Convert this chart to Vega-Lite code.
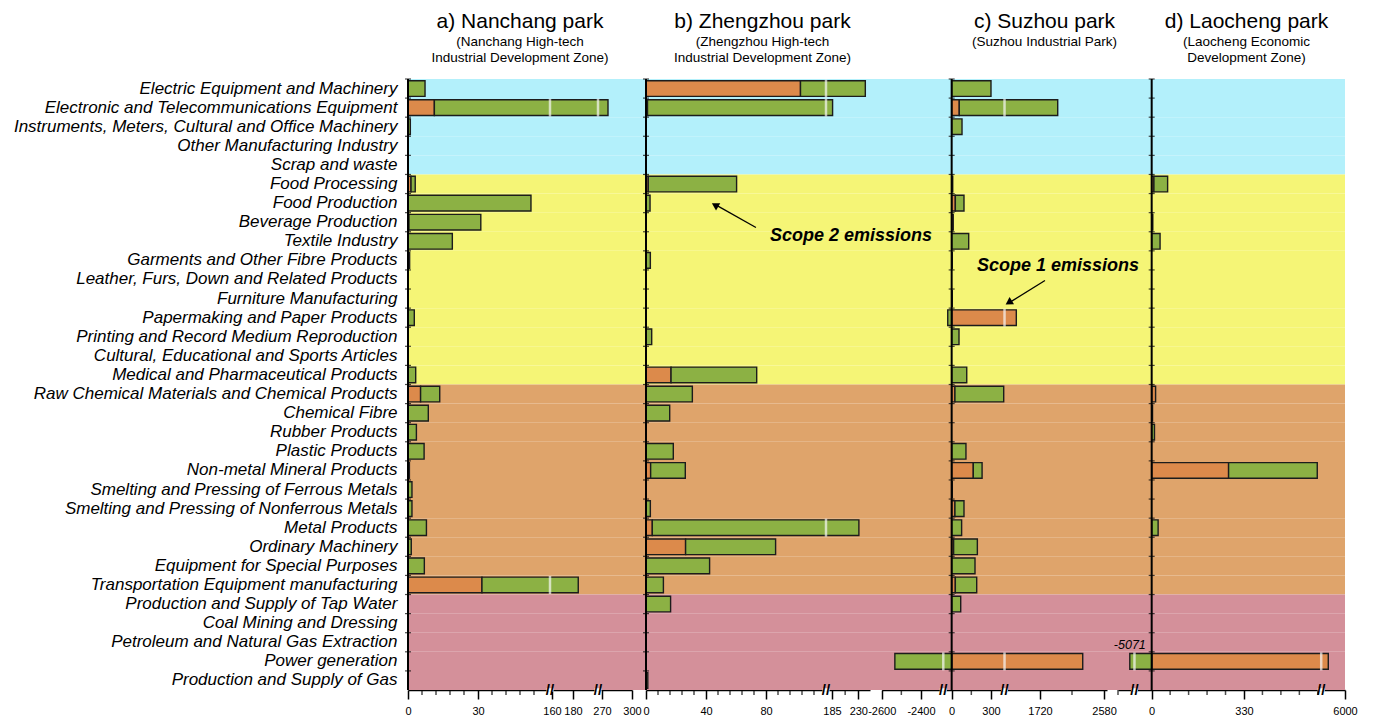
{
"$schema": "https://vega.github.io/schema/vega-lite/v6.json",
"padding": {"left": 13, "top": 10, "right": 5, "bottom": 5},
"background": "white",
"spacing": 0,
"bounds": "flush",
"config": {
  "view": {"stroke": null},
  "font": "Liberation Sans",
  "title": {"font": "Liberation Sans", "fontSize": 21, "fontWeight": "normal", "color": "black", "anchor": "middle", "subtitleFont": "Liberation Sans", "subtitleFontSize": 13.5, "subtitleColor": "black", "subtitlePadding": 3, "subtitleLineHeight": 16, "offset": 14},
  "axis": {"labelFont": "Liberation Sans", "labelColor": "black", "labelOverlap": false}
},
"datasets": {
  "sectors": [
    {"sector": "Electric Equipment and Machinery", "group": "g1"},
    {"sector": "Electronic and Telecommunications Equipment", "group": "g1"},
    {"sector": "Instruments, Meters, Cultural and Office Machinery", "group": "g1"},
    {"sector": "Other Manufacturing Industry", "group": "g1"},
    {"sector": "Scrap and waste", "group": "g1"},
    {"sector": "Food Processing", "group": "g2"},
    {"sector": "Food Production", "group": "g2"},
    {"sector": "Beverage Production", "group": "g2"},
    {"sector": "Textile Industry", "group": "g2"},
    {"sector": "Garments and Other Fibre Products", "group": "g2"},
    {"sector": "Leather, Furs, Down and Related Products", "group": "g2"},
    {"sector": "Furniture Manufacturing", "group": "g2"},
    {"sector": "Papermaking and Paper Products", "group": "g2"},
    {"sector": "Printing and Record Medium Reproduction", "group": "g2"},
    {"sector": "Cultural, Educational and Sports Articles", "group": "g2"},
    {"sector": "Medical and Pharmaceutical Products", "group": "g2"},
    {"sector": "Raw Chemical Materials and Chemical Products", "group": "g3"},
    {"sector": "Chemical Fibre", "group": "g3"},
    {"sector": "Rubber Products", "group": "g3"},
    {"sector": "Plastic Products", "group": "g3"},
    {"sector": "Non-metal Mineral Products", "group": "g3"},
    {"sector": "Smelting and Pressing of Ferrous Metals", "group": "g3"},
    {"sector": "Smelting and Pressing of Nonferrous Metals", "group": "g3"},
    {"sector": "Metal Products", "group": "g3"},
    {"sector": "Ordinary Machinery", "group": "g3"},
    {"sector": "Equipment for Special Purposes", "group": "g3"},
    {"sector": "Transportation Equipment manufacturing", "group": "g3"},
    {"sector": "Production and Supply of Tap Water", "group": "g4"},
    {"sector": "Coal Mining and Dressing", "group": "g4"},
    {"sector": "Petroleum and Natural Gas Extraction", "group": "g4"},
    {"sector": "Power generation", "group": "g4"},
    {"sector": "Production and Supply of Gas", "group": "g4"}
  ],
  "em": [
    {"park": "a", "sector": "Electric Equipment and Machinery", "scope": "Scope 2", "value": 7.3},
    {"park": "a", "sector": "Electronic and Telecommunications Equipment", "scope": "Scope 1", "value": 11.3},
    {"park": "a", "sector": "Electronic and Telecommunications Equipment", "scope": "Scope 2", "value": 264.7},
    {"park": "a", "sector": "Instruments, Meters, Cultural and Office Machinery", "scope": "Scope 2", "value": 1.0},
    {"park": "a", "sector": "Food Processing", "scope": "Scope 1", "value": 1.3},
    {"park": "a", "sector": "Food Processing", "scope": "Scope 2", "value": 1.8},
    {"park": "a", "sector": "Food Production", "scope": "Scope 2", "value": 52.7},
    {"park": "a", "sector": "Beverage Production", "scope": "Scope 1", "value": 0.4},
    {"park": "a", "sector": "Beverage Production", "scope": "Scope 2", "value": 30.8},
    {"park": "a", "sector": "Textile Industry", "scope": "Scope 2", "value": 19.0},
    {"park": "a", "sector": "Garments and Other Fibre Products", "scope": "Scope 2", "value": 0.7},
    {"park": "a", "sector": "Papermaking and Paper Products", "scope": "Scope 2", "value": 2.7},
    {"park": "a", "sector": "Medical and Pharmaceutical Products", "scope": "Scope 2", "value": 3.3},
    {"park": "a", "sector": "Raw Chemical Materials and Chemical Products", "scope": "Scope 1", "value": 5.4},
    {"park": "a", "sector": "Raw Chemical Materials and Chemical Products", "scope": "Scope 2", "value": 8.2},
    {"park": "a", "sector": "Chemical Fibre", "scope": "Scope 2", "value": 8.7},
    {"park": "a", "sector": "Rubber Products", "scope": "Scope 2", "value": 3.6},
    {"park": "a", "sector": "Plastic Products", "scope": "Scope 2", "value": 6.9},
    {"park": "a", "sector": "Non-metal Mineral Products", "scope": "Scope 1", "value": 0.6},
    {"park": "a", "sector": "Smelting and Pressing of Ferrous Metals", "scope": "Scope 2", "value": 1.7},
    {"park": "a", "sector": "Smelting and Pressing of Nonferrous Metals", "scope": "Scope 2", "value": 1.7},
    {"park": "a", "sector": "Metal Products", "scope": "Scope 2", "value": 7.9},
    {"park": "a", "sector": "Ordinary Machinery", "scope": "Scope 2", "value": 1.4},
    {"park": "a", "sector": "Equipment for Special Purposes", "scope": "Scope 2", "value": 7.0},
    {"park": "a", "sector": "Transportation Equipment manufacturing", "scope": "Scope 1", "value": 31.7},
    {"park": "a", "sector": "Transportation Equipment manufacturing", "scope": "Scope 2", "value": 153.3},

    {"park": "b", "sector": "Electric Equipment and Machinery", "scope": "Scope 1", "value": 103},
    {"park": "b", "sector": "Electric Equipment and Machinery", "scope": "Scope 2", "value": 139},
    {"park": "b", "sector": "Electronic and Telecommunications Equipment", "scope": "Scope 1", "value": 1},
    {"park": "b", "sector": "Electronic and Telecommunications Equipment", "scope": "Scope 2", "value": 185},
    {"park": "b", "sector": "Food Processing", "scope": "Scope 1", "value": 1.5},
    {"park": "b", "sector": "Food Processing", "scope": "Scope 2", "value": 58.9},
    {"park": "b", "sector": "Food Production", "scope": "Scope 2", "value": 2.7},
    {"park": "b", "sector": "Garments and Other Fibre Products", "scope": "Scope 2", "value": 2.9},
    {"park": "b", "sector": "Printing and Record Medium Reproduction", "scope": "Scope 2", "value": 3.8},
    {"park": "b", "sector": "Medical and Pharmaceutical Products", "scope": "Scope 1", "value": 16.7},
    {"park": "b", "sector": "Medical and Pharmaceutical Products", "scope": "Scope 2", "value": 57.1},
    {"park": "b", "sector": "Raw Chemical Materials and Chemical Products", "scope": "Scope 2", "value": 30.9},
    {"park": "b", "sector": "Chemical Fibre", "scope": "Scope 2", "value": 15.8},
    {"park": "b", "sector": "Plastic Products", "scope": "Scope 2", "value": 18.2},
    {"park": "b", "sector": "Non-metal Mineral Products", "scope": "Scope 1", "value": 3.1},
    {"park": "b", "sector": "Non-metal Mineral Products", "scope": "Scope 2", "value": 23.1},
    {"park": "b", "sector": "Smelting and Pressing of Nonferrous Metals", "scope": "Scope 2", "value": 2.9},
    {"park": "b", "sector": "Metal Products", "scope": "Scope 1", "value": 4.2},
    {"park": "b", "sector": "Metal Products", "scope": "Scope 2", "value": 226.8},
    {"park": "b", "sector": "Ordinary Machinery", "scope": "Scope 1", "value": 26.4},
    {"park": "b", "sector": "Ordinary Machinery", "scope": "Scope 2", "value": 60.0},
    {"park": "b", "sector": "Equipment for Special Purposes", "scope": "Scope 2", "value": 42.4},
    {"park": "b", "sector": "Transportation Equipment manufacturing", "scope": "Scope 2", "value": 11.6},
    {"park": "b", "sector": "Production and Supply of Tap Water", "scope": "Scope 2", "value": 16.4},
    {"park": "b", "sector": "Production and Supply of Gas", "scope": "Scope 2", "value": 1.2},

    {"park": "c", "sector": "Electric Equipment and Machinery", "scope": "Scope 2", "value": 300},
    {"park": "c", "sector": "Electronic and Telecommunications Equipment", "scope": "Scope 1", "value": 58},
    {"park": "c", "sector": "Electronic and Telecommunications Equipment", "scope": "Scope 2", "value": 1900},
    {"park": "c", "sector": "Instruments, Meters, Cultural and Office Machinery", "scope": "Scope 2", "value": 79},
    {"park": "c", "sector": "Food Processing", "scope": "Scope 1", "value": 8},
    {"park": "c", "sector": "Food Production", "scope": "Scope 1", "value": 28},
    {"park": "c", "sector": "Food Production", "scope": "Scope 2", "value": 66},
    {"park": "c", "sector": "Beverage Production", "scope": "Scope 1", "value": 12},
    {"park": "c", "sector": "Textile Industry", "scope": "Scope 2", "value": 130},
    {"park": "c", "sector": "Garments and Other Fibre Products", "scope": "Scope 1", "value": 5},
    {"park": "c", "sector": "Furniture Manufacturing", "scope": "Scope 1", "value": 5},
    {"park": "c", "sector": "Papermaking and Paper Products", "scope": "Scope 1", "value": 1402},
    {"park": "c", "sector": "Papermaking and Paper Products", "scope": "Scope 2", "value": -30},
    {"park": "c", "sector": "Printing and Record Medium Reproduction", "scope": "Scope 2", "value": 56},
    {"park": "c", "sector": "Medical and Pharmaceutical Products", "scope": "Scope 2", "value": 115},
    {"park": "c", "sector": "Raw Chemical Materials and Chemical Products", "scope": "Scope 1", "value": 25},
    {"park": "c", "sector": "Raw Chemical Materials and Chemical Products", "scope": "Scope 2", "value": 372},
    {"park": "c", "sector": "Plastic Products", "scope": "Scope 2", "value": 109},
    {"park": "c", "sector": "Non-metal Mineral Products", "scope": "Scope 1", "value": 165},
    {"park": "c", "sector": "Non-metal Mineral Products", "scope": "Scope 2", "value": 67},
    {"park": "c", "sector": "Smelting and Pressing of Ferrous Metals", "scope": "Scope 1", "value": 5},
    {"park": "c", "sector": "Smelting and Pressing of Nonferrous Metals", "scope": "Scope 1", "value": 25},
    {"park": "c", "sector": "Smelting and Pressing of Nonferrous Metals", "scope": "Scope 2", "value": 69},
    {"park": "c", "sector": "Metal Products", "scope": "Scope 2", "value": 76},
    {"park": "c", "sector": "Ordinary Machinery", "scope": "Scope 1", "value": 15},
    {"park": "c", "sector": "Ordinary Machinery", "scope": "Scope 2", "value": 181},
    {"park": "c", "sector": "Equipment for Special Purposes", "scope": "Scope 2", "value": 178},
    {"park": "c", "sector": "Transportation Equipment manufacturing", "scope": "Scope 1", "value": 28},
    {"park": "c", "sector": "Transportation Equipment manufacturing", "scope": "Scope 2", "value": 163},
    {"park": "c", "sector": "Production and Supply of Tap Water", "scope": "Scope 2", "value": 69},
    {"park": "c", "sector": "Power generation", "scope": "Scope 1", "value": 2294},
    {"park": "c", "sector": "Power generation", "scope": "Scope 2", "value": -2533},

    {"park": "d", "sector": "Food Processing", "scope": "Scope 1", "value": 8},
    {"park": "d", "sector": "Food Processing", "scope": "Scope 2", "value": 49},
    {"park": "d", "sector": "Beverage Production", "scope": "Scope 1", "value": 4},
    {"park": "d", "sector": "Textile Industry", "scope": "Scope 2", "value": 30},
    {"park": "d", "sector": "Raw Chemical Materials and Chemical Products", "scope": "Scope 1", "value": 14},
    {"park": "d", "sector": "Chemical Fibre", "scope": "Scope 1", "value": 3},
    {"park": "d", "sector": "Rubber Products", "scope": "Scope 2", "value": 10},
    {"park": "d", "sector": "Non-metal Mineral Products", "scope": "Scope 1", "value": 275},
    {"park": "d", "sector": "Non-metal Mineral Products", "scope": "Scope 2", "value": 317},
    {"park": "d", "sector": "Metal Products", "scope": "Scope 2", "value": 23},
    {"park": "d", "sector": "Power generation", "scope": "Scope 1", "value": 5620},
    {"park": "d", "sector": "Power generation", "scope": "Scope 2", "value": -5071}
  ],
  "gaps": [
    {"park": "a", "sector": "Electronic and Telecommunications Equipment", "value": 110},
    {"park": "a", "sector": "Electronic and Telecommunications Equipment", "value": 235},
    {"park": "a", "sector": "Transportation Equipment manufacturing", "value": 110},
    {"park": "b", "sector": "Electric Equipment and Machinery", "value": 120},
    {"park": "b", "sector": "Electronic and Telecommunications Equipment", "value": 120},
    {"park": "b", "sector": "Metal Products", "value": 120},
    {"park": "c", "sector": "Electronic and Telecommunications Equipment", "value": 800},
    {"park": "c", "sector": "Papermaking and Paper Products", "value": 800},
    {"park": "c", "sector": "Power generation", "value": -1000},
    {"park": "c", "sector": "Power generation", "value": 800},
    {"park": "d", "sector": "Power generation", "value": -2500},
    {"park": "d", "sector": "Power generation", "value": 3000}
  ],
  "brk": [
    {"park": "a", "value": 110},
    {"park": "a", "value": 235},
    {"park": "b", "value": 120},
    {"park": "c", "value": -1000},
    {"park": "c", "value": 800},
    {"park": "d", "value": -2500},
    {"park": "d", "value": 3000}
  ],
  "minor": [
    {"park": "a", "value": 6}, {"park": "a", "value": 12}, {"park": "a", "value": 18}, {"park": "a", "value": 24},
    {"park": "a", "value": 36}, {"park": "a", "value": 42}, {"park": "a", "value": 48}, {"park": "a", "value": 54},
    {"park": "b", "value": 8}, {"park": "b", "value": 16}, {"park": "b", "value": 24}, {"park": "b", "value": 32},
    {"park": "b", "value": 48}, {"park": "b", "value": 56}, {"park": "b", "value": 64}, {"park": "b", "value": 72},
    {"park": "b", "value": 88}, {"park": "b", "value": 96}, {"park": "b", "value": 104}, {"park": "b", "value": 112},
    {"park": "b", "value": 207.5},
    {"park": "c", "value": -2500}, {"park": "c", "value": 150}, {"park": "c", "value": 2150},
    {"park": "d", "value": -5130}, {"park": "d", "value": 66}, {"park": "d", "value": 132}, {"park": "d", "value": 198},
    {"park": "d", "value": 264}, {"park": "d", "value": 396}, {"park": "d", "value": 462}, {"park": "d", "value": 528},
    {"park": "d", "value": 594}
  ]
},
"resolve": {"scale": {"x": "independent", "y": "independent"}},
"hconcat": [
{
  "width": 238, "height": 611,
  "title": {"text": "a) Nanchang park", "subtitle": ["(Nanchang High-tech", "Industrial Development Zone)"], "dx": -7},
  "encoding": {"y": {"field": "sector", "type": "nominal", "scale": {"paddingInner": 0, "paddingOuter": 0, "domain": ["Electric Equipment and Machinery","Electronic and Telecommunications Equipment","Instruments, Meters, Cultural and Office Machinery","Other Manufacturing Industry","Scrap and waste","Food Processing","Food Production","Beverage Production","Textile Industry","Garments and Other Fibre Products","Leather, Furs, Down and Related Products","Furniture Manufacturing","Papermaking and Paper Products","Printing and Record Medium Reproduction","Cultural, Educational and Sports Articles","Medical and Pharmaceutical Products","Raw Chemical Materials and Chemical Products","Chemical Fibre","Rubber Products","Plastic Products","Non-metal Mineral Products","Smelting and Pressing of Ferrous Metals","Smelting and Pressing of Nonferrous Metals","Metal Products","Ordinary Machinery","Equipment for Special Purposes","Transportation Equipment manufacturing","Production and Supply of Tap Water","Coal Mining and Dressing","Petroleum and Natural Gas Extraction","Power generation","Production and Supply of Gas"]},
    "axis": {"title": null, "domain": false, "ticks": false, "labelFontSize": 17, "labelFontStyle": "italic", "labelPadding": 11, "labelLimit": 500}}},
  "layer": [
    {"data": {"name": "sectors"}, "mark": {"type": "rect"},
     "encoding": {"x": {"value": 0}, "x2": {"value": "width"}, "fill": {"field": "group", "type": "nominal", "scale": {"domain": ["g1","g2","g3","g4"], "range": ["#b3f0fb","#f5f576","#dfa46b","#d4909a"]}, "legend": null}}},
    {"data": {"name": "em"}, "transform": [{"filter": "datum.park === 'a'"}],
     "mark": {"type": "bar", "height": {"band": 0.82}, "stroke": "#1c1c1c", "strokeWidth": 1.4},
     "encoding": {
       "x": {"field": "value", "type": "quantitative", "stack": "zero",
             "scale": {"domain": [0, 60, 160, 200, 270, 300], "range": [0, 140, 144, 186, 194, 224], "zero": false, "nice": false},
             "axis": {"title": null, "grid": false, "values": [0,30,160,180,270,300], "labelExpr": "toString(datum.value)",
                      "tickSize": 9, "labelFontSize": 11, "labelPadding": 6, "labelFlush": false, "labelOverlap": false,
                      "domainColor": "black", "domainWidth": 1.5, "tickColor": "black", "tickWidth": 1.5}},
       "color": {"field": "scope", "type": "nominal", "scale": {"domain": ["Scope 1","Scope 2"], "range": ["#dc8a4b","#8cb144"]}, "legend": null},
       "order": {"field": "scope", "type": "ordinal"}}},
    {"data": {"name": "gaps"}, "transform": [{"filter": "datum.park === 'a'"}],
     "mark": {"type": "tick", "thickness": 2.5, "size": 18, "color": "#f6f6f6"},
     "encoding": {"x": {"field": "value", "type": "quantitative"}}},
    {"data": {"values": [{}]}, "mark": {"type": "rule", "color": "black", "strokeWidth": 2},
     "encoding": {"x": {"datum": 0}, "y": {"value": 0}, "y2": {"value": "height"}}},
    {"data": {"name": "sectors"}, "mark": {"type": "tick", "orient": "horizontal", "size": 6, "thickness": 1.2, "color": "black", "yOffset": -9.55},
     "encoding": {"x": {"datum": 0}}},
    {"data": {"name": "minor"}, "transform": [{"filter": "datum.park === 'a'"}],
     "mark": {"type": "tick", "orient": "vertical", "size": 5, "thickness": 1.5, "color": "black"},
     "encoding": {"x": {"field": "value", "type": "quantitative"}, "y": {"value": 613.5}}},
    {"data": {"name": "brk"}, "transform": [{"filter": "datum.park === 'a'"}],
     "mark": {"type": "point", "shape": "M-1,-0.5H1V0.5H-1Z", "size": 49, "filled": true, "color": "white", "opacity": 1},
     "encoding": {"x": {"field": "value", "type": "quantitative"}, "y": {"value": 611}}},
    {"data": {"name": "brk"}, "transform": [{"filter": "datum.park === 'a'"}],
     "mark": {"type": "text", "text": "//", "fontSize": 15, "fontWeight": "bold", "color": "black", "baseline": "middle"},
     "encoding": {"x": {"field": "value", "type": "quantitative"}, "y": {"value": 611}}}
  ]
},
{
  "width": 229, "height": 611,
  "title": {"text": "b) Zhengzhou park", "subtitle": ["(Zhengzhou High-tech", "Industrial Development Zone)"], "dx": 2},
  "encoding": {"y": {"field": "sector", "type": "nominal", "scale": {"paddingInner": 0, "paddingOuter": 0, "domain": ["Electric Equipment and Machinery","Electronic and Telecommunications Equipment","Instruments, Meters, Cultural and Office Machinery","Other Manufacturing Industry","Scrap and waste","Food Processing","Food Production","Beverage Production","Textile Industry","Garments and Other Fibre Products","Leather, Furs, Down and Related Products","Furniture Manufacturing","Papermaking and Paper Products","Printing and Record Medium Reproduction","Cultural, Educational and Sports Articles","Medical and Pharmaceutical Products","Raw Chemical Materials and Chemical Products","Chemical Fibre","Rubber Products","Plastic Products","Non-metal Mineral Products","Smelting and Pressing of Ferrous Metals","Smelting and Pressing of Nonferrous Metals","Metal Products","Ordinary Machinery","Equipment for Special Purposes","Transportation Equipment manufacturing","Production and Supply of Tap Water","Coal Mining and Dressing","Petroleum and Natural Gas Extraction","Power generation","Production and Supply of Gas"]}, "axis": null}},
  "layer": [
    {"data": {"name": "sectors"}, "mark": {"type": "rect"},
     "encoding": {"x": {"value": 0}, "x2": {"value": "width"}, "fill": {"field": "group", "type": "nominal", "scale": {"domain": ["g1","g2","g3","g4"], "range": ["#b3f0fb","#f5f576","#dfa46b","#d4909a"]}, "legend": null}}},
    {"data": {"name": "em"}, "transform": [{"filter": "datum.park === 'b'"}],
     "mark": {"type": "bar", "height": {"band": 0.82}, "stroke": "#1c1c1c", "strokeWidth": 1.4},
     "encoding": {
       "x": {"field": "value", "type": "quantitative", "stack": "zero",
             "scale": {"domain": [0, 120, 185, 250], "range": [0, 180, 186, 224], "zero": false, "nice": false},
             "axis": {"title": null, "grid": false, "values": [0,40,80,185,230], "labelExpr": "toString(datum.value)",
                      "tickSize": 9, "labelFontSize": 11, "labelPadding": 6, "labelFlush": false, "labelOverlap": false,
                      "domainColor": "black", "domainWidth": 1.5, "tickColor": "black", "tickWidth": 1.5}},
       "color": {"field": "scope", "type": "nominal", "scale": {"domain": ["Scope 1","Scope 2"], "range": ["#dc8a4b","#8cb144"]}, "legend": null},
       "order": {"field": "scope", "type": "ordinal"}}},
    {"data": {"name": "gaps"}, "transform": [{"filter": "datum.park === 'b'"}],
     "mark": {"type": "tick", "thickness": 2.5, "size": 18, "color": "#f6f6f6"},
     "encoding": {"x": {"field": "value", "type": "quantitative"}}},
    {"data": {"values": [{}]}, "mark": {"type": "rule", "color": "black", "strokeWidth": 2},
     "encoding": {"x": {"datum": 0}, "y": {"value": 0}, "y2": {"value": "height"}}},
    {"data": {"name": "sectors"}, "mark": {"type": "tick", "orient": "horizontal", "size": 6, "thickness": 1.2, "color": "black", "yOffset": -9.55},
     "encoding": {"x": {"datum": 0}}},
    {"data": {"name": "minor"}, "transform": [{"filter": "datum.park === 'b'"}],
     "mark": {"type": "tick", "orient": "vertical", "size": 5, "thickness": 1.5, "color": "black"},
     "encoding": {"x": {"field": "value", "type": "quantitative"}, "y": {"value": 613.5}}},
    {"data": {"name": "brk"}, "transform": [{"filter": "datum.park === 'b'"}],
     "mark": {"type": "point", "shape": "M-1,-0.5H1V0.5H-1Z", "size": 49, "filled": true, "color": "white", "opacity": 1},
     "encoding": {"x": {"field": "value", "type": "quantitative"}, "y": {"value": 611}}},
    {"data": {"name": "brk"}, "transform": [{"filter": "datum.park === 'b'"}],
     "mark": {"type": "text", "text": "//", "fontSize": 15, "fontWeight": "bold", "color": "black", "baseline": "middle"},
     "encoding": {"x": {"field": "value", "type": "quantitative"}, "y": {"value": 611}}},
    {"data": {"values": [{}]}, "mark": {"type": "rule", "color": "black", "strokeWidth": 1.3, "yOffset": 5.3, "y2Offset": 3},
     "encoding": {"x": {"datum": 73.3}, "x2": {"datum": 48}, "y": {"datum": "Beverage Production"}, "y2": {"datum": "Food Production"}}},
    {"data": {"values": [{}]}, "mark": {"type": "point", "shape": "triangle-up", "size": 70, "filled": true, "color": "black", "opacity": 1, "angle": 300, "yOffset": 2},
     "encoding": {"x": {"datum": 46}, "y": {"datum": "Food Production"}}}
  ]
},
{
  "width": 237, "height": 611,
  "title": {"text": "c) Suzhou park", "subtitle": ["(Suzhou Industrial Park)", " "], "dx": 51},
  "encoding": {"y": {"field": "sector", "type": "nominal", "scale": {"paddingInner": 0, "paddingOuter": 0, "domain": ["Electric Equipment and Machinery","Electronic and Telecommunications Equipment","Instruments, Meters, Cultural and Office Machinery","Other Manufacturing Industry","Scrap and waste","Food Processing","Food Production","Beverage Production","Textile Industry","Garments and Other Fibre Products","Leather, Furs, Down and Related Products","Furniture Manufacturing","Papermaking and Paper Products","Printing and Record Medium Reproduction","Cultural, Educational and Sports Articles","Medical and Pharmaceutical Products","Raw Chemical Materials and Chemical Products","Chemical Fibre","Rubber Products","Plastic Products","Non-metal Mineral Products","Smelting and Pressing of Ferrous Metals","Smelting and Pressing of Nonferrous Metals","Metal Products","Ordinary Machinery","Equipment for Special Purposes","Transportation Equipment manufacturing","Production and Supply of Tap Water","Coal Mining and Dressing","Petroleum and Natural Gas Extraction","Power generation","Production and Supply of Gas"]}, "axis": null}},
  "layer": [
    {"data": {"name": "sectors"}, "mark": {"type": "rect"},
     "encoding": {"x": {"value": 0}, "x2": {"value": "width"}, "fill": {"field": "group", "type": "nominal", "scale": {"domain": ["g1","g2","g3","g4"], "range": ["#b3f0fb","#f5f576","#dfa46b","#d4909a"]}, "legend": null}}},
    {"data": {"name": "em"}, "transform": [{"filter": "datum.park === 'c'"}],
     "mark": {"type": "bar", "height": {"band": 0.82}, "stroke": "#1c1c1c", "strokeWidth": 1.4},
     "encoding": {
       "x": {"field": "value", "type": "quantitative", "stack": "zero",
             "scale": {"domain": [-2600, -2290, -60, 400, 1250, 2620], "range": [6.7, 67.6, 68.8, 129.1, 130, 232], "zero": false, "nice": false},
             "axis": {"title": null, "grid": false, "values": [-2600,-2400,0,300,1720,2580], "labelExpr": "toString(datum.value)",
                      "tickSize": 9, "labelFontSize": 11, "labelPadding": 6, "labelFlush": false, "labelOverlap": false,
                      "domainColor": "black", "domainWidth": 1.5, "tickColor": "black", "tickWidth": 1.5}},
       "color": {"field": "scope", "type": "nominal", "scale": {"domain": ["Scope 1","Scope 2"], "range": ["#dc8a4b","#8cb144"]}, "legend": null},
       "order": {"field": "scope", "type": "ordinal"}}},
    {"data": {"name": "gaps"}, "transform": [{"filter": "datum.park === 'c'"}],
     "mark": {"type": "tick", "thickness": 2.5, "size": 18, "color": "#f6f6f6"},
     "encoding": {"x": {"field": "value", "type": "quantitative"}}},
    {"data": {"values": [{}]}, "mark": {"type": "rule", "color": "black", "strokeWidth": 2},
     "encoding": {"x": {"datum": 0}, "y": {"value": 0}, "y2": {"value": "height"}}},
    {"data": {"name": "sectors"}, "mark": {"type": "tick", "orient": "horizontal", "size": 6, "thickness": 1.2, "color": "black", "yOffset": -9.55},
     "encoding": {"x": {"datum": 0}}},
    {"data": {"name": "minor"}, "transform": [{"filter": "datum.park === 'c'"}],
     "mark": {"type": "tick", "orient": "vertical", "size": 5, "thickness": 1.5, "color": "black"},
     "encoding": {"x": {"field": "value", "type": "quantitative"}, "y": {"value": 613.5}}},
    {"data": {"name": "brk"}, "transform": [{"filter": "datum.park === 'c'"}],
     "mark": {"type": "point", "shape": "M-1,-0.5H1V0.5H-1Z", "size": 49, "filled": true, "color": "white", "opacity": 1},
     "encoding": {"x": {"field": "value", "type": "quantitative"}, "y": {"value": 611}}},
    {"data": {"name": "brk"}, "transform": [{"filter": "datum.park === 'c'"}],
     "mark": {"type": "text", "text": "//", "fontSize": 15, "fontWeight": "bold", "color": "black", "baseline": "middle"},
     "encoding": {"x": {"field": "value", "type": "quantitative"}, "y": {"value": 611}}},
    {"data": {"values": [{}]}, "mark": {"type": "text", "text": "Scope 2 emissions", "align": "right", "baseline": "middle", "fontSize": 18, "fontWeight": "bold", "fontStyle": "italic", "color": "black", "dy": -5},
     "encoding": {"x": {"datum": -2344}, "y": {"datum": "Textile Industry"}}},
    {"data": {"values": [{}]}, "mark": {"type": "rule", "color": "black", "strokeWidth": 1.3, "yOffset": 1, "y2Offset": 3},
     "encoding": {"x": {"datum": 1787}, "x2": {"datum": 1330}, "y": {"datum": "Leather, Furs, Down and Related Products"}, "y2": {"datum": "Furniture Manufacturing"}}},
    {"data": {"values": [{}]}, "mark": {"type": "point", "shape": "triangle-up", "size": 70, "filled": true, "color": "black", "opacity": 1, "angle": 238, "yOffset": 4},
     "encoding": {"x": {"datum": 1300}, "y": {"datum": "Furniture Manufacturing"}}}
  ]
},
{
  "width": 233, "height": 611,
  "title": {"text": "d) Laocheng park", "subtitle": ["(Laocheng Economic", "Development Zone)"], "dx": 18},
  "encoding": {"y": {"field": "sector", "type": "nominal", "scale": {"paddingInner": 0, "paddingOuter": 0, "domain": ["Electric Equipment and Machinery","Electronic and Telecommunications Equipment","Instruments, Meters, Cultural and Office Machinery","Other Manufacturing Industry","Scrap and waste","Food Processing","Food Production","Beverage Production","Textile Industry","Garments and Other Fibre Products","Leather, Furs, Down and Related Products","Furniture Manufacturing","Papermaking and Paper Products","Printing and Record Medium Reproduction","Cultural, Educational and Sports Articles","Medical and Pharmaceutical Products","Raw Chemical Materials and Chemical Products","Chemical Fibre","Rubber Products","Plastic Products","Non-metal Mineral Products","Smelting and Pressing of Ferrous Metals","Smelting and Pressing of Nonferrous Metals","Metal Products","Ordinary Machinery","Equipment for Special Purposes","Transportation Equipment manufacturing","Production and Supply of Tap Water","Coal Mining and Dressing","Petroleum and Natural Gas Extraction","Power generation","Production and Supply of Gas"]}, "axis": null}},
  "layer": [
    {"data": {"name": "sectors"}, "mark": {"type": "rect"},
     "encoding": {"x": {"value": 0}, "x2": {"value": "width"}, "fill": {"field": "group", "type": "nominal", "scale": {"domain": ["g1","g2","g3","g4"], "range": ["#b3f0fb","#f5f576","#dfa46b","#d4909a"]}, "legend": null}}},
    {"data": {"name": "em"}, "transform": [{"filter": "datum.park === 'd'"}],
     "mark": {"type": "bar", "height": {"band": 0.82}, "stroke": "#1c1c1c", "strokeWidth": 1.4},
     "encoding": {
       "x": {"field": "value", "type": "quantitative", "stack": "zero",
             "scale": {"domain": [-5130, -5050, -60, 600, 5500, 6000], "range": [6, 22, 22.9, 207.5, 211, 233], "zero": false, "nice": false},
             "axis": {"title": null, "grid": false, "values": [0,330,6000], "labelExpr": "toString(datum.value)",
                      "tickSize": 9, "labelFontSize": 11, "labelPadding": 6, "labelFlush": false, "labelOverlap": false,
                      "domainColor": "black", "domainWidth": 1.5, "tickColor": "black", "tickWidth": 1.5}},
       "color": {"field": "scope", "type": "nominal", "scale": {"domain": ["Scope 1","Scope 2"], "range": ["#dc8a4b","#8cb144"]}, "legend": null},
       "order": {"field": "scope", "type": "ordinal"}}},
    {"data": {"name": "gaps"}, "transform": [{"filter": "datum.park === 'd'"}],
     "mark": {"type": "tick", "thickness": 2.5, "size": 18, "color": "#f6f6f6"},
     "encoding": {"x": {"field": "value", "type": "quantitative"}}},
    {"data": {"values": [{}]}, "mark": {"type": "rule", "color": "black", "strokeWidth": 2},
     "encoding": {"x": {"datum": 0}, "y": {"value": 0}, "y2": {"value": "height"}}},
    {"data": {"name": "sectors"}, "mark": {"type": "tick", "orient": "horizontal", "size": 6, "thickness": 1.2, "color": "black", "yOffset": -9.55},
     "encoding": {"x": {"datum": 0}}},
    {"data": {"name": "minor"}, "transform": [{"filter": "datum.park === 'd'"}],
     "mark": {"type": "tick", "orient": "vertical", "size": 5, "thickness": 1.5, "color": "black"},
     "encoding": {"x": {"field": "value", "type": "quantitative"}, "y": {"value": 613.5}}},
    {"data": {"name": "brk"}, "transform": [{"filter": "datum.park === 'd'"}],
     "mark": {"type": "point", "shape": "M-1,-0.5H1V0.5H-1Z", "size": 49, "filled": true, "color": "white", "opacity": 1},
     "encoding": {"x": {"field": "value", "type": "quantitative"}, "y": {"value": 611}}},
    {"data": {"name": "brk"}, "transform": [{"filter": "datum.park === 'd'"}],
     "mark": {"type": "text", "text": "//", "fontSize": 15, "fontWeight": "bold", "color": "black", "baseline": "middle"},
     "encoding": {"x": {"field": "value", "type": "quantitative"}, "y": {"value": 611}}},
    {"data": {"values": [{}]}, "mark": {"type": "text", "text": "Scope 1 emissions", "align": "right", "baseline": "middle", "fontSize": 18, "fontWeight": "bold", "fontStyle": "italic", "color": "black", "dy": 6},
     "encoding": {"x": {"datum": -45}, "y": {"datum": "Garments and Other Fibre Products"}}},
    {"data": {"name": "em"}, "transform": [{"filter": "datum.park === 'd' && datum.sector === 'Power generation' && datum.scope === 'Scope 2'"}],
     "mark": {"type": "text", "fontSize": 12.5, "fontStyle": "italic", "color": "black", "baseline": "middle", "dy": -16},
     "encoding": {"x": {"field": "value", "type": "quantitative"}, "text": {"field": "value", "type": "nominal"}}}
  ]
}
]
}
